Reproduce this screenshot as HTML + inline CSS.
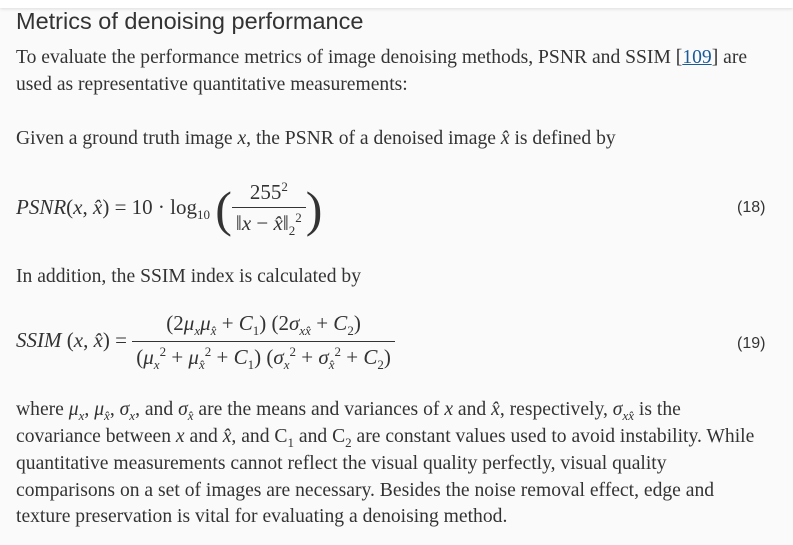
<!DOCTYPE html>
<html><head><meta charset="utf-8"><style>
html,body{margin:0;padding:0;}
body{width:793px;height:545px;background:#fafafa;position:relative;overflow:hidden;font-family:"Liberation Serif",serif;color:#333;}
.topbar{position:absolute;left:0;top:0;width:793px;height:8px;background:#fff;box-shadow:0 1px 3px rgba(0,0,0,0.12);}
.l{position:absolute;left:16px;white-space:nowrap;font-size:19.6px;line-height:22px;}
.h{position:absolute;left:16px;top:8px;font-family:"Liberation Sans",sans-serif;font-size:23.5px;color:#333;white-space:nowrap;}
i{font-style:italic;}
a{color:#1a5a96;}
.eq{position:absolute;font-family:"Liberation Serif",serif;font-size:21px;white-space:nowrap;}
.num{position:absolute;font-family:"Liberation Sans",sans-serif;font-size:16px;color:#333;}
.frac{display:inline-block;vertical-align:middle;text-align:center;}
.frac .n{display:block;padding:0 4px 2px;border-bottom:1px solid #333;}
.frac .d{display:block;padding:2px 4px 0;}
sub,sup{font-size:13px;}
</style></head><body>
<div class="topbar"></div>
<div class="h">Metrics of denoising performance</div>
<div class="l" style="top:47px">To evaluate the performance metrics of image denoising methods, PSNR and SSIM [<a href="#">109</a>] are</div>
<div class="l" style="top:74px">used as representative quantitative measurements:</div>
<div class="l" style="top:128px">Given a ground truth image <i>x</i>, the PSNR of a denoised image <i>x̂</i> is defined by</div>
<div class="eq" style="left:16px;top:179px"><i>PSNR</i>(<i>x</i>, <i>x̂</i>) = 10 · log<sub>10</sub> <span style="font-size:50px;vertical-align:middle;font-weight:100">(</span><span class="frac"><span class="n">255<sup>2</sup></span><span class="d">‖<i>x</i> − <i>x̂</i>‖<sub>2</sub><sup>2</sup></span></span><span style="font-size:50px;vertical-align:middle;font-weight:100">)</span></div>
<div class="num" style="left:737px;top:199px">(18)</div>
<div class="l" style="top:266px">In addition, the SSIM index is calculated by</div>
<div class="eq" style="left:16px;top:311px"><i>SSIM</i> (<i>x</i>, <i>x̂</i>) = <span class="frac"><span class="n">(2<i>μ<sub>x</sub>μ<sub>x̂</sub></i> + <i>C</i><sub>1</sub>) (2<i>σ<sub>xx̂</sub></i> + <i>C</i><sub>2</sub>)</span><span class="d">(<i>μ</i><sub><i>x</i></sub><sup>2</sup> + <i>μ</i><sub><i>x̂</i></sub><sup>2</sup> + <i>C</i><sub>1</sub>) (<i>σ</i><sub><i>x</i></sub><sup>2</sup> + <i>σ</i><sub><i>x̂</i></sub><sup>2</sup> + <i>C</i><sub>2</sub>)</span></span></div>
<div class="num" style="left:737px;top:335px">(19)</div>
<div class="l" style="top:399px">where <i>μ<sub>x</sub></i>, <i>μ<sub>x̂</sub></i>, <i>σ<sub>x</sub></i>, and <i>σ<sub>x̂</sub></i> are the means and variances of <i>x</i> and <i>x̂</i>, respectively, <i>σ<sub>xx̂</sub></i> is the</div>
<div class="l" style="top:426px">covariance between <i>x</i> and <i>x̂</i>, and C<sub>1</sub> and C<sub>2</sub> are constant values used to avoid instability. While</div>
<div class="l" style="top:453px">quantitative measurements cannot reflect the visual quality perfectly, visual quality</div>
<div class="l" style="top:480px">comparisons on a set of images are necessary. Besides the noise removal effect, edge and</div>
<div class="l" style="top:506px">texture preservation is vital for evaluating a denoising method.</div>
</body></html>
